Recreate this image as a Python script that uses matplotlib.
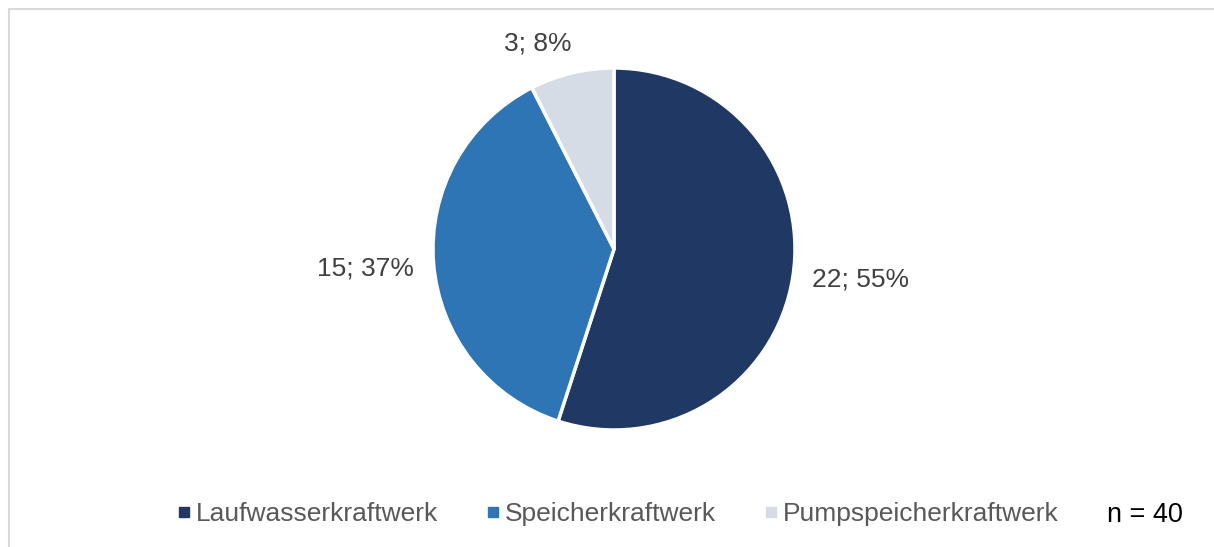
import numpy as np
import matplotlib.pyplot as plt
from matplotlib.lines import Line2D
from matplotlib.patches import Rectangle

plt.rcParams['font.family'] = ['Liberation Sans', 'DejaVu Sans']

# data
categories = ["Laufwasserkraftwerk", "Speicherkraftwerk", "Pumpspeicherkraftwerk"]
counts = [22, 15, 3]
percents = [55, 37, 8]
colors = ["#203864", "#2E75B6", "#D6DCE5"]
n_total = 40

W, H = 1214, 547
fig = plt.figure(figsize=(W / 100, H / 100), dpi=100)
ax = fig.add_axes([0, 0, 1, 1])

# frame (cut off on right and bottom, like the source)
fig.patches.append(Rectangle((8.5 / W, -0.1), 1.2, (H - 8.5) / H + 0.1, transform=fig.transFigure,
                             fill=False, edgecolor="#D9D9D9", linewidth=1.5))

cx, cy, r = 614, H - 249, 181
wedges, _ = ax.pie(counts, colors=colors, startangle=90, counterclock=False,
                   center=(cx, cy), radius=r, frame=True,
                   wedgeprops=dict(edgecolor="white", linewidth=2.5))
ax.set_xlim(0, W)
ax.set_ylim(0, H)
ax.set_aspect('equal')
ax.axis('off')

label_dist = [1.37, 1.38, 1.21]
label_shift = [2, 0, 7]  # small angular nudges in degrees
for w, c, p, d, s in zip(wedges, counts, percents, label_dist, label_shift):
    ang = np.deg2rad((w.theta1 + w.theta2) / 2 + s)
    ax.text(cx + d * r * np.cos(ang), cy + d * r * np.sin(ang), f"{c}; {p}%",
            ha='center', va='center', fontsize=19, color="#404040")

handles = [Line2D([], [], marker='s', linestyle='none', markersize=7,
                  markerfacecolor=col, markeredgecolor=col) for col in colors]
fig.legend(handles, categories, loc='center', bbox_to_anchor=(618 / W, 33 / H), ncol=3,
           frameon=False, fontsize=19, labelcolor="#595959", handlelength=0.5,
           handletextpad=0.2, columnspacing=1.85)

fig.text(1145 / W, 32 / H, f"n = {n_total}", ha='center', va='center', fontsize=19.5, color="black")

fig.savefig("out.png", dpi=100)
